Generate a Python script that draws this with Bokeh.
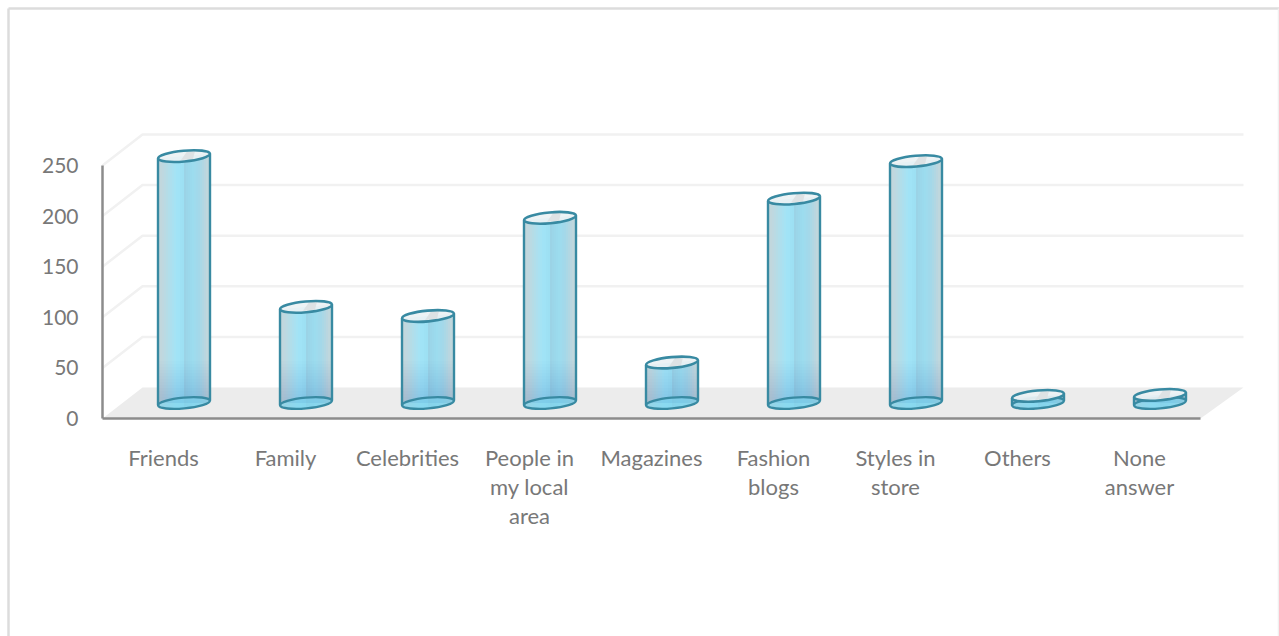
import numpy as np
from bokeh.embed import file_html
from bokeh.models import FixedTicker
from bokeh.plotting import figure
from bokeh.resources import INLINE

categories = ["Friends", "Family", "Celebrities", "People in\nmy local\narea", "Magazines",
              "Fashion\nblogs", "Styles in\nstore", "Others", "None\nanswer"]
values = [244, 95, 86, 183, 40, 202, 239, 7, 8]
y_ticks = [0, 50, 100, 150, 200, 250]

WIDTH, HEIGHT = 1279, 636
PX_PER_CATEGORY = 122.0
PX_PER_UNIT = 1.012
ORIGIN_X, ORIGIN_Y = 163.0, 418.0  # pixel position of category 0 at value 0
DEPTH_X_L, DEPTH_X_R, DEPTH_Y = 40.0, 43.0, 31.0  # oblique offset of the back wall, pixels
BAR_SHIFT = 20.5
BAR_RX, BAR_RY = 26.0, 5.4
TILT = 0.09

TEAL = "#388aa2"
TEXT = "#787878"
AXIS = "#8c8c8c"
GRID = "#f1f1f1"
FLOOR = "#ececec"
FRAME = "#dcdcdc"
BAND_POS = [0.0, 0.10, 0.22, 0.36, 0.49, 0.50, 0.66, 0.80, 0.92, 1.0]
BAND_RGB = [(196, 212, 216), (186, 214, 222), (172, 220, 234), (156, 226, 246), (152, 222, 242),
            (150, 208, 228), (150, 218, 238), (160, 214, 232), (184, 212, 220), (200, 214, 218)]


def dx(px):
    return px / PX_PER_CATEGORY


def dy(px):
    return px / PX_PER_UNIT


def hexcolor(t):
    rgb = [int(round(np.interp(t, BAND_POS, [c[k] for c in BAND_RGB]))) for k in range(3)]
    return "#%02x%02x%02x" % tuple(rgb)


p = figure(width=WIDTH, height=HEIGHT, output_backend="svg", toolbar_location=None,
           x_range=(-ORIGIN_X / PX_PER_CATEGORY, (WIDTH - ORIGIN_X) / PX_PER_CATEGORY),
           y_range=((ORIGIN_Y - HEIGHT) / PX_PER_UNIT, ORIGIN_Y / PX_PER_UNIT),
           min_border=0, outline_line_color=None, background_fill_color="white")
p.grid.visible = False

x_left, x_right = -0.5, len(categories) - 0.5
back_l, back_r, back_dy = dx(DEPTH_X_L), dx(DEPTH_X_R), dy(DEPTH_Y)

# outer chart border
bl, br = p.x_range.start, p.x_range.end
bb, bt = p.y_range.start, p.y_range.end
p.line([bl + dx(8), bl + dx(8)], [bb, bt - dy(8)], line_color=FRAME, line_width=2.5)
p.line([bl + dx(8), br], [bt - dy(8), bt - dy(8)], line_color=FRAME, line_width=2.5)
p.line([br - dx(1), br - dx(1)], [bb, bt - dy(8)], line_color="#f0f0f0", line_width=1.5)

# floor and walls of the 3-D box
p.patch([x_left, x_left + back_l, x_right + back_r, x_right],
        [0, back_dy, back_dy, 0], fill_color=FLOOR, line_color=None)
for v in y_ticks[1:]:
    p.line([x_left, x_left + back_l, x_right + back_r],
           [v, v + back_dy, v + back_dy], line_color=GRID, line_width=2.5)

# cylinders
n_strips = 26
strip_w = 2 * BAR_RX / n_strips
for i, v in enumerate(values):
    cx = i + dx(BAR_SHIFT)
    base = dy(DEPTH_Y / 2)
    top = base + v

    # rear rim of the base
    p.ellipse([cx], [base], width=2 * BAR_RX, height=2 * BAR_RY, angle=TILT,
              width_units="screen", height_units="screen",
              fill_color="#86d6ec", fill_alpha=0.9, line_color=None)

    # shaded body, one narrow strip per shade
    for s in range(n_strips):
        a, b = -BAR_RX + s * strip_w, -BAR_RX + (s + 1) * strip_w
        xs = np.linspace(a, b, 4)
        low = base + TILT * xs / PX_PER_UNIT - BAR_RY * np.sqrt(np.clip(1 - (xs / BAR_RX) ** 2, 0, 1)) / PX_PER_UNIT
        high = top + TILT * xs / PX_PER_UNIT
        p.patch(np.r_[cx + xs / PX_PER_CATEGORY, cx + xs[::-1] / PX_PER_CATEGORY],
                np.r_[low, high[::-1]],
                fill_color=hexcolor((s + 0.5) / n_strips), fill_alpha=0.95, line_color=None)

    # darker haze towards the foot of the cylinder
    for k in range(14):
        h = min(dy(3 + 3 * k), v)
        p.quad(left=[cx - dx(BAR_RX)], right=[cx + dx(BAR_RX)], bottom=[base], top=[base + h],
               fill_color="#3f9db8", fill_alpha=0.014, line_color=None)

    # side edges
    tilt_u = dy(TILT * BAR_RX)
    p.line([cx - dx(BAR_RX)] * 2, [base - tilt_u, top - tilt_u], line_color=TEAL, line_width=2.4)
    p.line([cx + dx(BAR_RX)] * 2, [base + tilt_u, top + tilt_u], line_color=TEAL, line_width=2.4)

    # base rim
    p.ellipse([cx], [base], width=2 * BAR_RX, height=2 * BAR_RY, angle=TILT,
              width_units="screen", height_units="screen",
              fill_color="#7fd4ec", fill_alpha=0.6, line_color=TEAL, line_width=2.4)

    # open top with the lit inner wall
    p.ellipse([cx], [top], width=2 * BAR_RX, height=2 * BAR_RY, angle=TILT,
              width_units="screen", height_units="screen",
              fill_color="#ebf2f4", fill_alpha=0.92, line_color=None)
    p.patch([cx + dx(-3), cx + dx(3), cx + dx(11), cx + dx(9)],
            [top - dy(4), top + dy(4.5), top + dy(5), top - dy(3)],
            fill_color="#dde2e4", line_color=None)
    p.ellipse([cx], [top], width=2 * BAR_RX, height=2 * BAR_RY, angle=TILT,
              width_units="screen", height_units="screen",
              fill_color=None, line_color=TEAL, line_width=2.6)

# axes drawn at fixed positions inside the canvas
p.xaxis.fixed_location = 0
p.xaxis.bounds = (x_left, x_right)
p.xaxis.ticker = FixedTicker(ticks=list(range(len(categories))))
p.xaxis.major_label_overrides = {i: c for i, c in enumerate(categories)}
p.xaxis.major_label_standoff = 19
p.yaxis.fixed_location = x_left
p.yaxis.bounds = (0, 250)
p.yaxis.ticker = FixedTicker(ticks=y_ticks)
p.yaxis.major_label_standoff = 18
for ax in (p.xaxis[0], p.yaxis[0]):
    ax.axis_line_color = AXIS
    ax.axis_line_width = 2.5
    ax.major_tick_line_color = None
    ax.minor_tick_line_color = None
    ax.major_label_text_color = TEXT
    ax.major_label_text_font = "Lato"
p.xaxis[0].major_label_text_font_size = "22px"
p.xaxis[0].major_label_text_line_height = 1.09
p.yaxis[0].major_label_text_font_size = "21px"
p.yaxis[0].major_label_orientation = "horizontal"

open("out.html", "w").write(file_html(p, INLINE))
